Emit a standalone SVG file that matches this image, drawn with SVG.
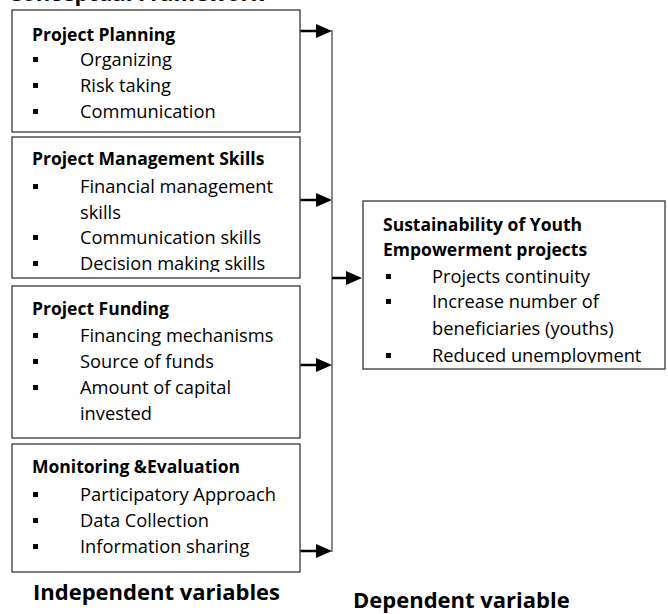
<svg xmlns="http://www.w3.org/2000/svg" width="668" height="614" viewBox="0 0 668 614">
<style>
text{font-family:"Open Sans","Liberation Sans",sans-serif;fill:#000}
.h{font-weight:bold;font-size:17.5px}
.t{font-size:18.3px}
.big{font-weight:bold;font-size:22px}
.box{fill:#fff;stroke:#505050;stroke-width:1.5}
.vl{fill:none;stroke:#8a8a8a;stroke-width:2}
.ar{fill:none;stroke:#000;stroke-width:2.5}
.ah{fill:#000}
.b{fill:#000}
</style>
<defs>
<clipPath id="c1"><rect x="12" y="10" width="288" height="122"/></clipPath>
<clipPath id="c2"><rect x="12" y="137" width="288" height="135"/></clipPath>
<clipPath id="c3"><rect x="12" y="286" width="288" height="134"/></clipPath>
<clipPath id="c4"><rect x="12" y="444" width="288" height="128"/></clipPath>
<clipPath id="c5"><rect x="363" y="201" width="302" height="162"/></clipPath>
</defs>
<rect width="668" height="614" fill="#fff"/>
<text class="big" x="8" y="1">Conceptual Framework</text>

<g id="connectors">
<line class="vl" x1="332" y1="30" x2="332" y2="552"/>
<line class="ar" x1="300" y1="31" x2="318" y2="31"/><polygon class="ah" points="316,24 332,31 316,38"/>
<line class="ar" x1="300" y1="200" x2="318" y2="200"/><polygon class="ah" points="316,193 332,200 316,207"/>
<line class="ar" x1="300" y1="365" x2="318" y2="365"/><polygon class="ah" points="316,358 332,365 316,372"/>
<line class="ar" x1="300" y1="551" x2="318" y2="551"/><polygon class="ah" points="316,544 332,551 316,558"/>
<line class="ar" x1="332" y1="278" x2="348" y2="278"/><polygon class="ah" points="346,271 362,278 346,285"/>
</g>

<g id="planning">
<rect class="box" x="12" y="10" width="288" height="122"/>
<g clip-path="url(#c1)">
<text class="h" x="32" y="41">Project Planning</text>
<rect class="b" x="33" y="57" width="5" height="5"/><text class="t" x="80" y="66">Organizing</text>
<rect class="b" x="33" y="83" width="5" height="5"/><text class="t" x="80" y="92">Risk taking</text>
<rect class="b" x="33" y="109" width="5" height="5"/><text class="t" x="80" y="118">Communication</text>
</g>
</g>

<g id="management">
<rect class="box" x="12" y="137" width="288" height="141"/>
<g clip-path="url(#c2)">
<text class="h" x="32" y="165">Project Management Skills</text>
<rect class="b" x="33" y="184" width="5" height="5"/><text class="t" x="80" y="193">Financial management</text>
<text class="t" x="80" y="218.5">skills</text>
<rect class="b" x="33" y="235" width="5" height="5"/><text class="t" x="80" y="244">Communication skills</text>
<rect class="b" x="33" y="261" width="5" height="5"/><text class="t" x="80" y="270">Decision making skills</text>
</g>
</g>

<g id="funding">
<rect class="box" x="12" y="286" width="288" height="152"/>
<g clip-path="url(#c3)">
<text class="h" x="32" y="315">Project Funding</text>
<rect class="b" x="33" y="333" width="5" height="5"/><text class="t" x="80" y="342">Financing mechanisms</text>
<rect class="b" x="33" y="359" width="5" height="5"/><text class="t" x="80" y="368">Source of funds</text>
<rect class="b" x="33" y="385" width="5" height="5"/><text class="t" x="80" y="394">Amount of capital</text>
<text class="t" x="80" y="419.5">invested</text>
</g>
</g>

<g id="monitoring">
<rect class="box" x="12" y="444" width="288" height="128"/>
<g clip-path="url(#c4)">
<text class="h" x="32" y="473">Monitoring &amp;Evaluation</text>
<rect class="b" x="33" y="492" width="5" height="5"/><text class="t" x="80" y="501">Participatory Approach</text>
<rect class="b" x="33" y="518" width="5" height="5"/><text class="t" x="80" y="527">Data Collection</text>
<rect class="b" x="33" y="544" width="5" height="5"/><text class="t" x="80" y="553">Information sharing</text>
</g>
</g>

<g id="sustainability">
<rect class="box" x="363" y="201" width="302" height="168"/>
<g clip-path="url(#c5)">
<text class="h" x="383" y="231">Sustainability of Youth</text>
<text class="h" x="383" y="256">Empowerment projects</text>
<rect class="b" x="386" y="274" width="5" height="5"/><text class="t" x="432" y="283">Projects continuity</text>
<rect class="b" x="386" y="299" width="5" height="5"/><text class="t" x="432" y="308">Increase number of</text>
<text class="t" x="432" y="335">beneficiaries (youths)</text>
<rect class="b" x="386" y="353" width="5" height="5"/><text class="t" x="432" y="362">Reduced unemployment</text>
</g>
</g>

<g id="labels">
<text class="big" x="33" y="600">Independent variables</text>
<text class="big" x="353" y="608">Dependent variable</text>
</g>
</svg>
